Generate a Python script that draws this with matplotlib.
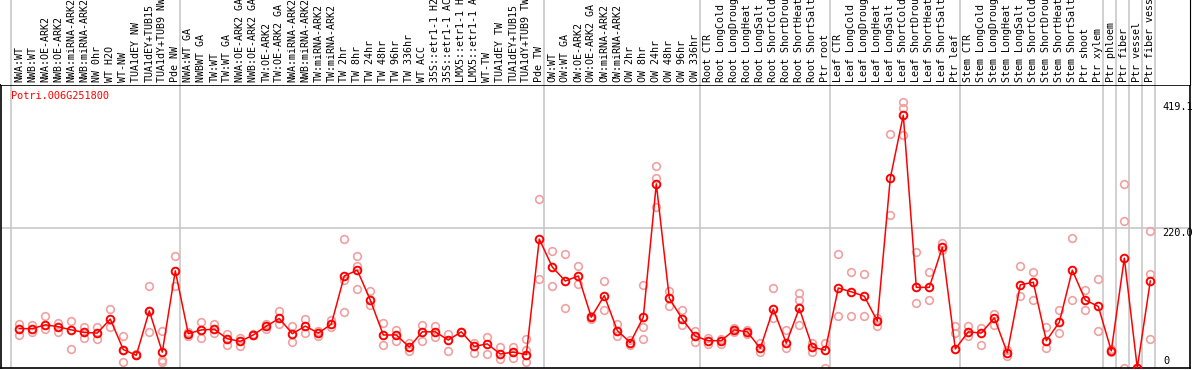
import matplotlib
matplotlib.use("Agg")
import matplotlib.pyplot as plt

# --- Dados ---
GENE = "Potri.006G251800"

samples = [
    "NWA:WT", "NWB:WT", "NWA:OE-ARK2", "NWB:OE-ARK2", "NWA:miRNA-ARK2", "NWB:miRNA-ARK2",
    "NW 0hr", "WT H2O", "WT-NW", "TUA1dEY NW", "TUA1dEY+TUB15", "TUA1dY+TUB9 NW", "Pde NW",
    "NWA:WT GA", "NWBWT GA", "TW:WT", "TW:WT GA", "NWA:OE-ARK2 GA", "NWB:OE-ARK2 GA",
    "TW:OE-ARK2", "TW:OE-ARK2 GA", "NWA:miRNA-ARK2", "NWB:miRNA-ARK2", "TW:miRNA-ARK2",
    "TW:miRNA-ARK2", "TW 2hr", "TW 8hr", "TW 24hr", "TW 48hr", "TW 96hr", "TW 336hr",
    "WT ACC", "35S::etr1-1 H2", "35S::etr1-1 AC", "LMX5::etr1-1 H", "LMX5::etr1-1 A",
    "WT-TW", "TUA1dEY TW", "TUA1dEY+TUB15", "TUA1dY+TUB9 TW", "Pde TW",
    "OW:WT", "OW:WT GA", "OW:OE-ARK2", "OW:OE-ARK2 GA", "OW:miRNA-ARK2", "OW:miRNA-ARK2",
    "OW 2hr", "OW 8hr", "OW 24hr", "OW 48hr", "OW 96hr", "OW 336hr",
    "Root CTR", "Root LongCold", "Root LongDroug", "Root LongHeat", "Root LongSalt",
    "Root ShortCold", "Root ShortDrou", "Root ShortHeat", "Root ShortSalt", "Ptr root",
    "Leaf CTR", "Leaf LongCold", "Leaf LongDroug", "Leaf LongHeat", "Leaf LongSalt",
    "Leaf ShortCold", "Leaf ShortDrou", "Leaf ShortHeat", "Leaf ShortSalt", "Ptr leaf",
    "Stem CTR", "Stem LongCold", "Stem LongDroug", "Stem LongHeat", "Stem LongSalt",
    "Stem ShortCold", "Stem ShortDrou", "Stem ShortHeat", "Stem ShortSalt",
    "Ptr shoot", "Ptr xylem", "Ptr phloem", "Ptr fiber", "Ptr vessel", "Ptr fiber vess",
]

means = [
    62, 62, 68, 65, 60, 56, 55, 77, 29, 20, 90, 25, 153,
    54, 60, 61, 46, 42, 52, 66, 78, 54, 66, 55, 69, 145, 154, 107, 52, 52, 33,
    57, 57, 44, 57, 34, 38, 22, 25, 21, 203,
    159, 137, 145, 80, 114, 59, 40, 80, 290, 110, 77, 50,
    43, 43, 60, 57, 31, 93, 39, 94, 33, 28,
    126, 120, 113, 74, 299, 398, 127, 127, 190, 30,
    57, 55, 79, 24, 131, 135, 43, 72, 154,
    107, 97, 27, 173, 0, 137,
]

reps = [
    [69, 52], [67, 56], [82, 61], [71, 57], [74, 30], [64, 48], [65, 46], [93, 64],
    [51, 9, 29], [20, 22], [129, 56, 90], [58, 13, 10], [176, 129],
    [56, 51], [72, 47], [69, 55], [53, 36], [47, 35], [52, 53], [70, 61], [90, 69],
    [66, 41], [77, 55], [58, 51], [76, 64], [203, 139, 88], [176, 161, 124], [121, 99],
    [71, 36], [60, 43], [39, 27],
    [68, 43], [66, 49], [54, 26], [57, 56], [40, 23], [49, 22], [33, 14], [33, 16],
    [46, 28, 9], [266, 140],
    [185, 129], [179, 94], [160, 132], [77, 82], [137, 92], [70, 51], [44, 36],
    [130, 64, 45], [318, 299, 253], [121, 98], [91, 68], [58, 41],
    [47, 38], [46, 38], [63, 57], [60, 54], [39, 25], [126, 79], [60, 31], [118, 107, 68],
    [39, 25], [39, 0],
    [180, 82], [151, 82], [148, 82], [79, 66], [368, 241], [419.1, 409, 367], [183, 102],
    [151, 107], [197, 186], [66, 55],
    [66, 50], [63, 36], [85, 68], [28, 19], [161, 113], [151, 107], [65, 31], [91, 55],
    [205, 107],
    [123, 91], [140, 58], [30, 25], [289, 231, 0], [0, 0], [215, 148, 46],
]

group_starts = [0, 13, 41, 53, 63, 73, 84, 85, 86, 87, 88]

# --- Layout em pixels ---
W, H = 1194, 370


def px_rect(x0, y0, x1, y1):
    return [x0 / W, 1 - y1 / H, (x1 - x0) / W, (y1 - y0) / H]


fig = plt.figure(figsize=(W / 100, H / 100), dpi=100)
ax = fig.add_axes(px_rect(1, 85, 1190, 368))
hdr = fig.add_axes(px_rect(1, 0, 1190, 85))

x0 = (1 - 19.3) / 13
x1 = (1190 - 19.3) / 13
ymax = (368 - 85) / 0.635
for a in (ax, hdr):
    a.set_xlim(x0, x1)
    a.set_xticks([])
    a.set_yticks([])
    for g in group_starts:
        a.axvline(g - 0.64, color="#c8c8c8", lw=1.2, zorder=0)
ax.set_ylim(0, ymax)
hdr.set_ylim(0, 1)
for s in ("top", "left", "bottom"):
    hdr.spines[s].set_visible(False)
for s in ax.spines.values():
    s.set_color("black")
    s.set_linewidth(1.2)

ax.axhline(220, color="#c8c8c8", lw=1.2, zorder=0)

mono = "DejaVu Sans Mono"
# rótulos verticais
for i, name in enumerate(samples):
    hdr.text(i, 0.03, name, rotation=90, ha="center", va="bottom",
             fontsize=7.2, family=mono, clip_on=True)

# réplicas
for i, r in enumerate(reps):
    ax.plot([i] * len(r), r, "o", mfc="none", mec="#f0a0a0", ms=5.5, mew=1.2,
            clip_on=True, zorder=2)

# médias
ax.plot(range(len(means)), means, "-", color="red", lw=1.1, zorder=3)
ax.plot(range(len(means)), means, "o", mfc="none", mec="red", ms=5.5, mew=1.4, zorder=4)

ax.text(0.008, 0.96, GENE, transform=ax.transAxes, color="red", fontsize=7.4,
        family=mono, ha="left", va="center")

xl = (1162 - 19.3) / 13
ax.text(xl, 419.1, "419.1", fontsize=7.4, family=mono, ha="left", va="top")
ax.text(xl, 220, "220.0", fontsize=7.4, family=mono, ha="left", va="top")
ax.text(xl + 0.1, 3, "0", fontsize=7.4, family=mono, ha="left", va="bottom")

fig.savefig("out.png", dpi=100)
